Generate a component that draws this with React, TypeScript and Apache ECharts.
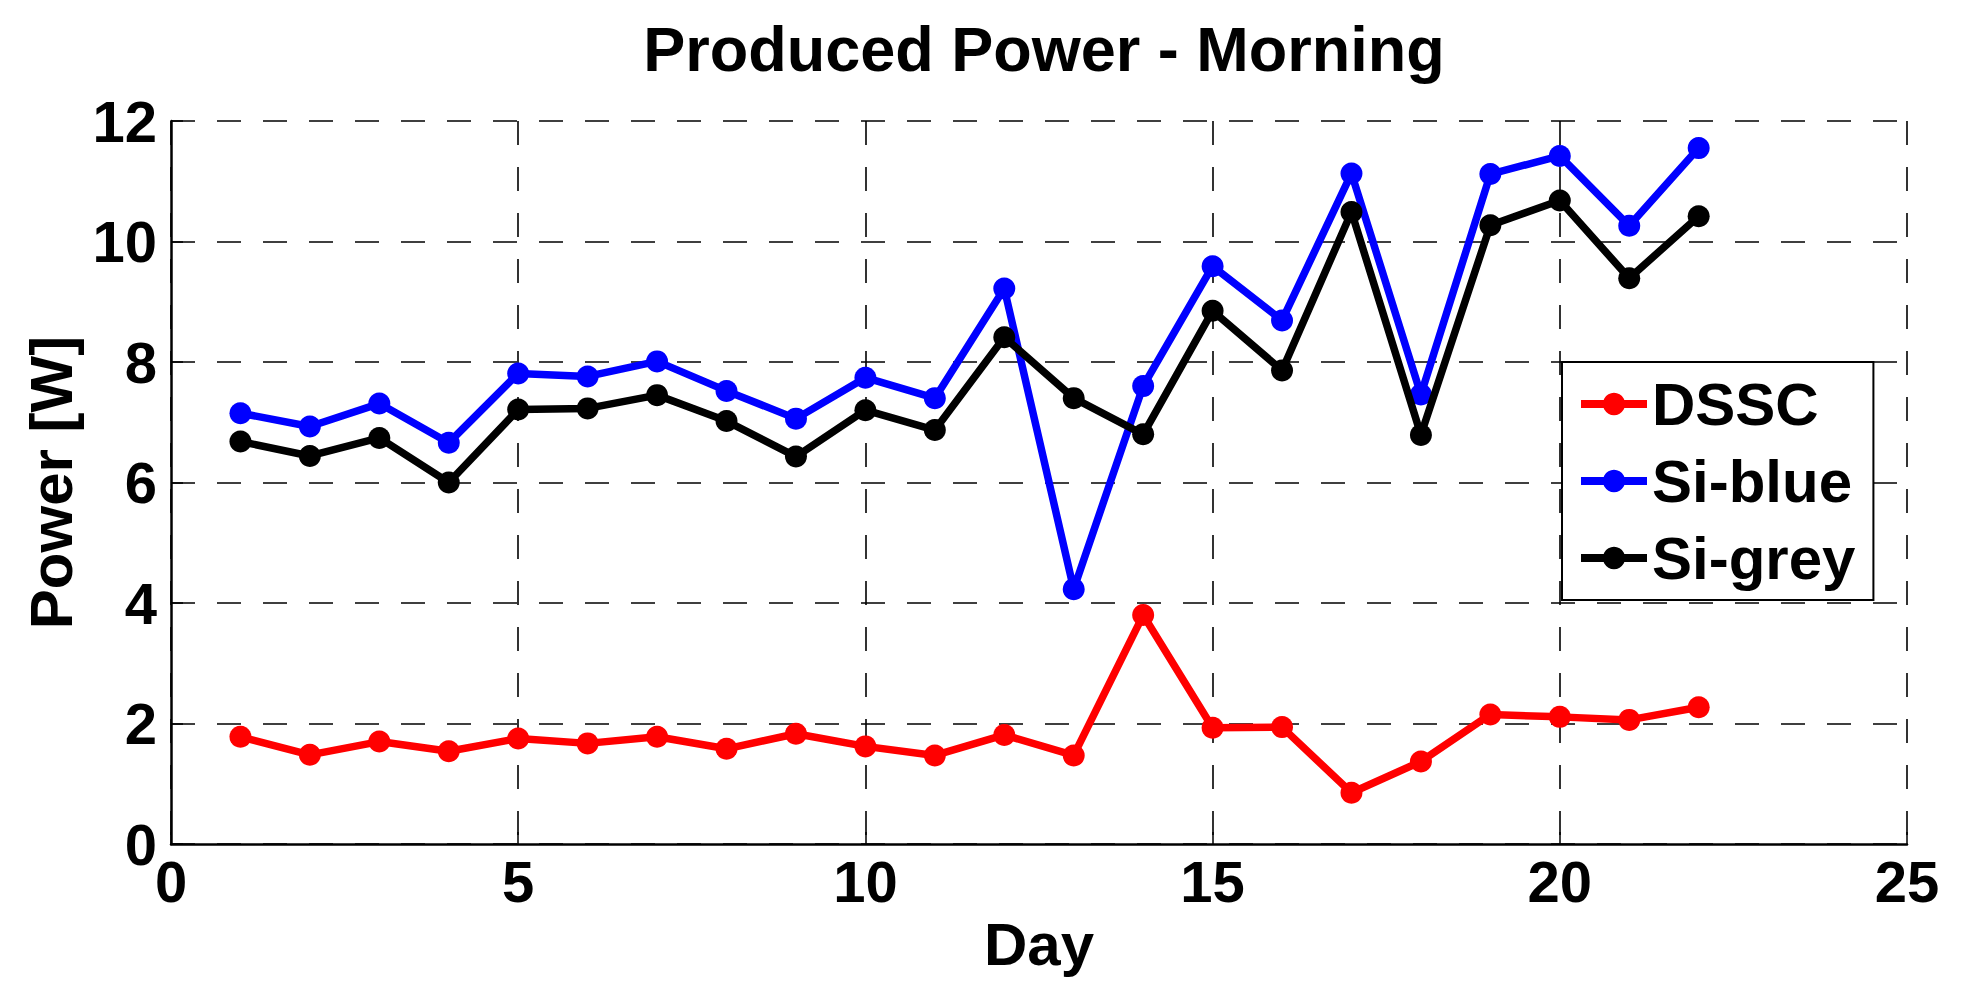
import React, { useEffect, useRef } from "react";
import * as echarts from "echarts";

const chartTitle = "Produced Power - Morning";
const xAxisName = "Day";
const yAxisName = "Power [W]";
const seriesNames = ["DSSC", "Si-blue", "Si-grey"];
const seriesColors = ["#ff0000", "#0000ff", "#000000"];

const days = [1, 2, 3, 4, 5, 6, 7, 8, 9, 10, 11, 12, 13, 14, 15, 16, 17, 18, 19, 20, 21, 22];
const dssc = [1.78, 1.48, 1.70, 1.54, 1.75, 1.67, 1.78, 1.58, 1.83, 1.62, 1.47, 1.81, 1.47, 3.80, 1.93, 1.94, 0.85, 1.37, 2.15, 2.11, 2.06, 2.27];
const siBlue = [7.15, 6.93, 7.31, 6.66, 7.81, 7.76, 8.01, 7.52, 7.06, 7.74, 7.40, 9.22, 4.23, 7.60, 9.59, 8.69, 11.13, 7.46, 11.12, 11.42, 10.26, 11.55];
const siGrey = [6.68, 6.44, 6.74, 6.00, 7.21, 7.23, 7.45, 7.02, 6.43, 7.20, 6.87, 8.41, 7.40, 6.80, 8.85, 7.86, 10.49, 6.79, 10.27, 10.68, 9.39, 10.42];

const xMin = 0, xMax = 25, xStep = 5;
const yMin = 0, yMax = 12, yStep = 2;

const FONT = "'Liberation Sans', Arial, Helvetica, sans-serif";

export default function App() {
  const ref = useRef<HTMLDivElement>(null);

  useEffect(() => {
    if (!ref.current) return;
    const chart = echarts.init(ref.current, undefined, { renderer: "svg" });
    const values = [dssc, siBlue, siGrey];
    const dashed = { color: "#000", width: 1.6, type: [24, 22] as any };
    chart.setOption({
      animation: false,
      backgroundColor: "#ffffff",
      textStyle: { fontFamily: FONT },
      title: {
        text: chartTitle,
        left: 1039,
        top: 12,
        textAlign: "center",
        textStyle: { fontFamily: FONT, fontWeight: "bold", fontSize: 63, color: "#000" },
      },
      grid: { left: 171, right: 54, top: 121, bottom: 156, containLabel: false },
      legend: {
        left: 1562,
        top: 362,
        orient: "vertical",
        selectedMode: false,
        data: seriesNames,
        itemWidth: 66,
        itemHeight: 28,
        itemGap: 17,
        padding: [12, 18, 12, 15],
        backgroundColor: "#fff",
        borderColor: "#000",
        borderWidth: 2,
        borderRadius: 0,
        lineStyle: { width: 8 },
        textStyle: { fontFamily: FONT, fontWeight: "bold", fontSize: 60, color: "#000", lineHeight: 60 },
      },
      xAxis: {
        type: "value",
        min: xMin,
        max: xMax,
        interval: xStep,
        name: xAxisName,
        nameLocation: "middle",
        nameGap: 66,
        nameTextStyle: { fontFamily: FONT, fontWeight: "bold", fontSize: 60, color: "#000" },
        axisLine: { show: true, onZero: false, lineStyle: { color: "#000", width: 2.5 } },
        axisTick: { show: true, inside: true, length: 12, lineStyle: { color: "#000", width: 1.5 } },
        axisLabel: { fontFamily: FONT, fontWeight: "bold", fontSize: 58, color: "#000", margin: 8 },
        splitLine: { show: true, lineStyle: dashed },
      },
      yAxis: {
        type: "value",
        min: yMin,
        max: yMax,
        interval: yStep,
        name: yAxisName,
        nameLocation: "middle",
        nameGap: 90,
        nameTextStyle: { fontFamily: FONT, fontWeight: "bold", fontSize: 60, color: "#000" },
        axisLine: { show: true, onZero: false, lineStyle: { color: "#000", width: 2.5 } },
        axisTick: { show: true, inside: true, length: 12, lineStyle: { color: "#000", width: 1.5 } },
        axisLabel: { fontFamily: FONT, fontWeight: "bold", fontSize: 58, color: "#000", margin: 14 },
        splitLine: { show: true, lineStyle: dashed },
      },
      series: seriesNames.map((name, i) => ({
        name,
        type: "line",
        data: days.map((d, j) => [d, values[i][j]]),
        symbol: "circle",
        symbolSize: 22,
        showAllSymbol: true,
        lineStyle: { color: seriesColors[i], width: 7.5 },
        itemStyle: { color: seriesColors[i] },
        emphasis: { disabled: true },
        z: 2 + i,
      })),
    });
    return () => chart.dispose();
  }, []);

  return (
    <div
      ref={ref}
      style={{ position: "fixed", left: 0, top: 0, width: 1961, height: 1000, background: "#fff" }}
    />
  );
}
